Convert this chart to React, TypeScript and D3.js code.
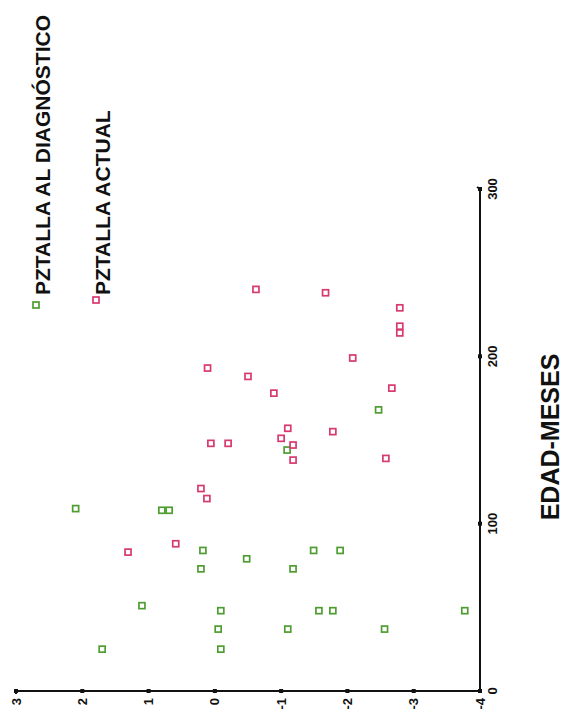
import React from "react";
import * as d3 from "d3";

// Age in months (EDAD-MESES) and height z-score (PZTALLA) per patient
const EDAD_DIAGNOSTICO = [109, 108, 108, 84, 79, 73, 51, 48, 37, 25, 25, 73, 84, 84, 48, 48, 37, 37, 48, 168, 144];
const PZTALLA_DIAGNOSTICO = [2.1, 0.8, 0.69, 0.18, -0.48, 0.21, 1.1, -0.09, -0.05, 1.7, -0.09, -1.18, -1.49, -1.89, -1.57, -1.78, -1.1, -2.56, -3.77, -2.47, -1.09];
const EDAD_ACTUAL = [121, 115, 88, 83, 240, 238, 229, 218, 214, 199, 188, 178, 181, 157, 151, 147, 138, 155, 139, 193, 148, 148];
const PZTALLA_ACTUAL = [0.21, 0.12, 0.59, 1.31, -0.62, -1.67, -2.79, -2.79, -2.79, -2.08, -0.5, -0.89, -2.67, -1.1, -1.0, -1.18, -1.18, -1.78, -2.58, 0.11, 0.06, -0.2];

const PZ_TICKS = [3, 2, 1, 0, -1, -2, -3, -4];
const EDAD_TICKS = [0, 100, 200, 300];
const SERIES_NAMES = ["PZTALLA AL DIAGNÓSTICO", "PZTALLA ACTUAL"];
const AXIS_TITLE = "EDAD-MESES";

const GREEN = "#4f9d32";
const PINK = "#d63a6e";
const FONT = "'Liberation Sans', Arial, sans-serif";

export default function App() {
  // The plot is laid out turned a quarter turn: z-score runs left→right, age bottom→top
  const x = d3.scaleLinear().domain([3, -4]).range([16, 480]);
  const y = d3.scaleLinear().domain([0, 300]).range([691, 189]);
  const axisX = x(-4);
  const axisY = y(0);

  const diag = EDAD_DIAGNOSTICO.map((e, i) => ({ e, v: PZTALLA_DIAGNOSTICO[i] }));
  const act = EDAD_ACTUAL.map((e, i) => ({ e, v: PZTALLA_ACTUAL[i] }));
  const s = 6;

  const marker = (cx: number, cy: number, color: string, key: string) => (
    <rect key={key} x={cx - s / 2} y={cy - s / 2} width={s} height={s} fill="white" stroke={color} strokeWidth={1.7} />
  );

  return (
    <svg width={567} height={713} style={{ position: "absolute", left: 0, top: 0, background: "white" }} fontFamily={FONT}>
      {/* z-score axis */}
      <line x1={x(3)} x2={axisX} y1={axisY} y2={axisY} stroke="#111" strokeWidth={2} />
      <line x1={x(3)} x2={x(3)} y1={axisY} y2={axisY + 3} stroke="#111" strokeWidth={2} />
      {PZ_TICKS.map((t) => (
        <g key={"pz" + t}>
          <rect x={x(t) - 2} y={axisY - 2} width={4} height={4} fill="#111" />
          <text
            transform={`translate(${x(t) + 4.5},${axisY + 7}) rotate(-90)`}
            textAnchor="end"
            fontSize={13}
            fontWeight="bold"
            fill="#111"
          >
            {t}
          </text>
        </g>
      ))}

      {/* age axis */}
      <line x1={axisX} x2={axisX} y1={axisY} y2={y(300)} stroke="#111" strokeWidth={2} />
      <line x1={axisX} x2={axisX - 3} y1={y(300)} y2={y(300) - 2} stroke="#111" strokeWidth={2} />
      {EDAD_TICKS.map((t) => (
        <g key={"e" + t}>
          <rect x={axisX - 2} y={y(t) - 2} width={4} height={4} fill="#111" />
          <text
            transform={`translate(${axisX + 17},${y(t)}) rotate(-90)`}
            textAnchor="middle"
            fontSize={13}
            fontWeight="bold"
            fill="#111"
          >
            {t}
          </text>
        </g>
      ))}
      <text
        transform={`translate(${559},${437}) rotate(-90)`}
        textAnchor="middle"
        fontSize={25}
        fontWeight="bold"
        fill="#111"
      >
        {AXIS_TITLE}
      </text>

      {/* points */}
      {diag.map((d, i) => marker(x(d.v), y(d.e), GREEN, "g" + i))}
      {act.map((d, i) => marker(x(d.v), y(d.e), PINK, "p" + i))}

      {/* legend */}
      {marker(36, 305, GREEN, "lg")}
      <text transform="translate(50,295) rotate(-90)" fontSize={21} fontWeight="bold" fill="#111">
        {SERIES_NAMES[0]}
      </text>
      {marker(96, 300, PINK, "lp")}
      <text transform="translate(110,295) rotate(-90)" fontSize={21} fontWeight="bold" fill="#111">
        {SERIES_NAMES[1]}
      </text>
    </svg>
  );
}
